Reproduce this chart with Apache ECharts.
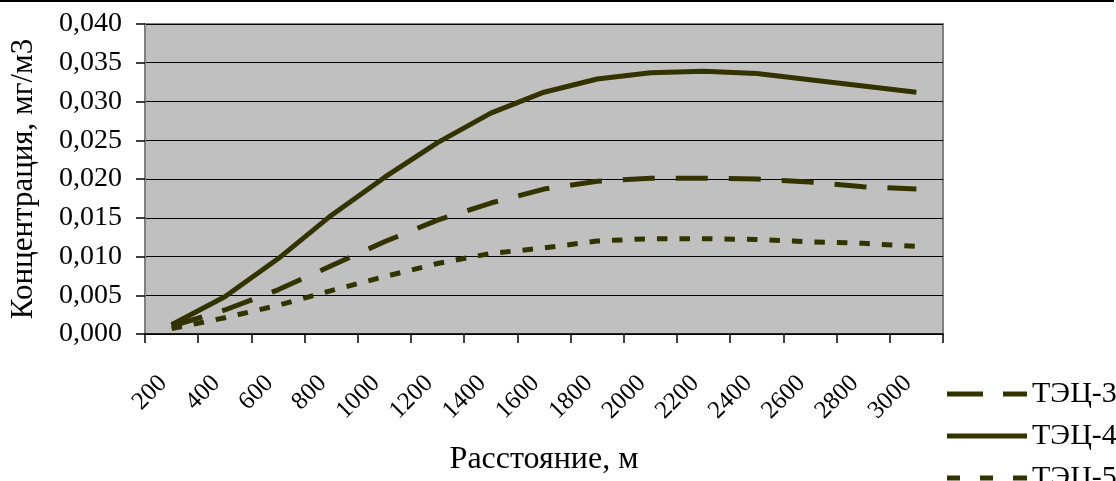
<!DOCTYPE html>
<html>
<head>
<meta charset="utf-8">
<script src="https://cdn.jsdelivr.net/npm/echarts@6/dist/echarts.min.js"></script>
<style>
  html, body { margin: 0; padding: 0; background: #fff; }
  #chart { width: 1116px; height: 481px; }
  #topline { position: absolute; left: 0; top: 0; width: 1114px; height: 2px; background: #000; }
</style>
</head>
<body>
<div id="chart"></div>
<div id="topline"></div>
<script>
const categories = ['200','400','600','800','1000','1200','1400','1600','1800','2000','2200','2400','2600','2800','3000'];
const tec3 = [0.0010, 0.0031, 0.0057, 0.0088, 0.0119, 0.0147, 0.0169, 0.0187, 0.0197, 0.0201, 0.0201, 0.0200, 0.0196, 0.0190, 0.0187];
const tec4 = [0.0012, 0.0048, 0.0097, 0.0153, 0.0202, 0.0247, 0.0285, 0.0312, 0.0329, 0.0337, 0.0339, 0.0336, 0.0328, 0.0320, 0.0312];
const tec5 = [0.0007, 0.0021, 0.0037, 0.0056, 0.0074, 0.0091, 0.0104, 0.0111, 0.0120, 0.0123, 0.0123, 0.0122, 0.0119, 0.0117, 0.0113];
const seriesNames = ['ТЭЦ-3', 'ТЭЦ-4', 'ТЭЦ-5'];
const yTicks = { min: 0, max: 0.04, interval: 0.005 };

const FONT = '"Liberation Serif", "Times New Roman", serif';
const LINE = '#333300';

// legend icon shapes (80 x 5 boxes)
const legendIcons = [
  'path://M0,0h36v5h-36z M56,0h24v5h-24z',
  'path://M0,0h80v5h-80z',
  'path://M0,0h13v5h-13z M33,0h13v5h-13z M66,0h14v5h-14z'
];

const chart = echarts.init(document.getElementById('chart'), null, { renderer: 'canvas' });
chart.setOption({
  animation: false,
  textStyle: { fontFamily: FONT, color: '#000' },
  grid: {
    left: 144, right: 173, top: 24, bottom: 143,
    show: true, backgroundColor: '#c0c0c0', borderColor: '#808080', borderWidth: 2
  },
  legend: {
    orient: 'vertical',
    left: 942, top: 374, height: 200,
    itemWidth: 80, itemHeight: 5, itemGap: 12,
    symbolKeepAspect: false,
    textStyle: { fontFamily: FONT, fontSize: 30, lineHeight: 30, color: '#000' },
    data: seriesNames.map((n, i) => ({ name: n, icon: legendIcons[i], itemStyle: { color: LINE } }))
  },
  xAxis: {
    type: 'category',
    data: categories,
    boundaryGap: true,
    name: 'Расстояние, м',
    nameLocation: 'middle',
    nameGap: 110,
    nameTextStyle: { fontFamily: FONT, fontSize: 32, color: '#000' },
    axisLine: { lineStyle: { color: '#000', width: 1.5 } },
    axisTick: { show: true, length: 9, lineStyle: { color: '#000', width: 1.5 } },
    axisLabel: { rotate: 45, fontSize: 25, fontFamily: FONT, color: '#000', margin: 37, interval: 0, padding: [0, 12, 0, 0] },
    splitLine: { show: false }
  },
  yAxis: {
    type: 'value',
    min: yTicks.min, max: yTicks.max, interval: yTicks.interval,
    name: 'Концентрация, мг/м3',
    nameLocation: 'middle',
    nameGap: 106,
    nameTextStyle: { fontFamily: FONT, fontSize: 31, color: '#000' },
    axisLine: { show: true, lineStyle: { color: '#808080', width: 2 } },
    axisTick: { show: true, length: 9, lineStyle: { color: '#000', width: 1.5 } },
    axisLabel: {
      fontSize: 28, fontFamily: FONT, color: '#000', margin: 23,
      formatter: v => v.toFixed(3).replace('.', ',')
    },
    splitLine: { show: true, lineStyle: { color: '#000', width: 1.2 } }
  },
  series: [
    { name: seriesNames[0], type: 'line', data: tec3, symbol: 'none',
      lineStyle: { color: LINE, width: 5, type: [32, 21], cap: 'butt' }, itemStyle: { color: LINE } },
    { name: seriesNames[1], type: 'line', data: tec4, symbol: 'none',
      lineStyle: { color: LINE, width: 5, type: 'solid' }, itemStyle: { color: LINE } },
    { name: seriesNames[2], type: 'line', data: tec5, symbol: 'none',
      lineStyle: { color: LINE, width: 5, type: [10.5, 12], cap: 'butt' }, itemStyle: { color: LINE } }
  ]
});
</script>
</body>
</html>
